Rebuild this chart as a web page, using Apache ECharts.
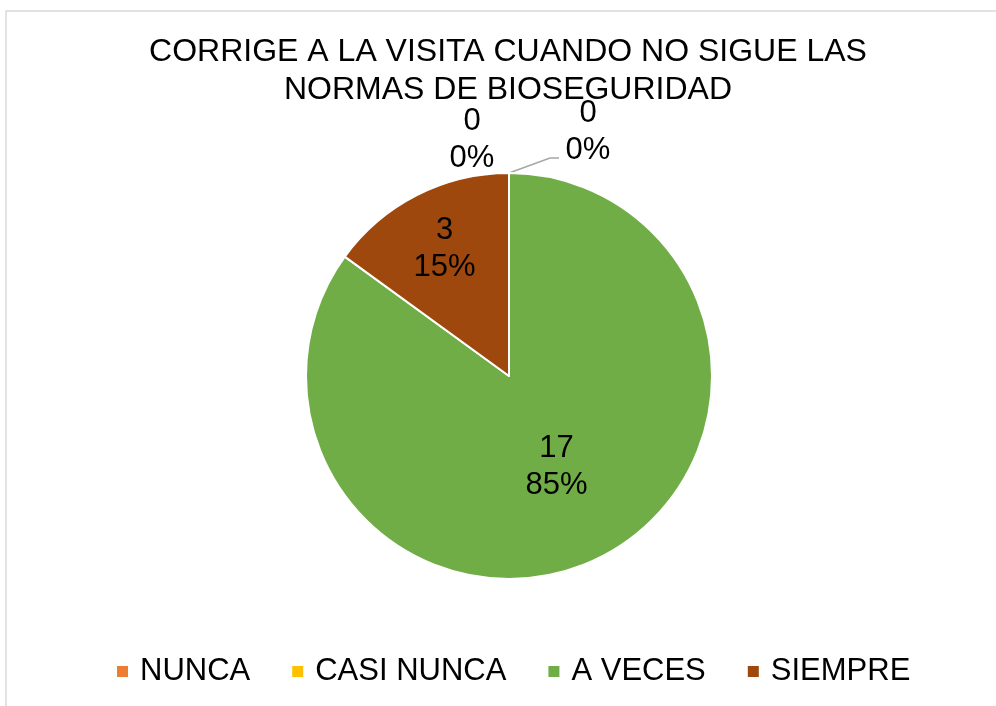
<!DOCTYPE html>
<html>
<head>
<meta charset="utf-8">
<script src="https://cdn.jsdelivr.net/npm/echarts@6/dist/echarts.min.js"></script>
<style>
  html, body { margin: 0; padding: 0; background: #fff; }
  #chart { width: 996px; height: 706px; }
</style>
</head>
<body>
<div id="chart"></div>
<script>
  // datos de la encuesta
  const categories = ['NUNCA', 'CASI NUNCA', 'A VECES', 'SIEMPRE'];
  const values = [0, 0, 17, 3];
  const colors = ['#ED7D31', '#FFC000', '#70AD47', '#9E480E'];
  const titleText = 'CORRIGE A LA VISITA CUANDO NO SIGUE LAS\nNORMAS DE BIOSEGURIDAD';

  const FONT = '"Liberation Sans", Arial, sans-serif';
  const cx = 509, cy = 376, radius = 203;

  const myChart = echarts.init(document.getElementById('chart'));

  let pieData = categories.map(function (name, i) {
    let item = { name: name, value: values[i], itemStyle: { color: colors[i] } };
    if (values[i] === 0) {
      item.label = { position: 'outside' };
      item.labelLine = { show: i === 1 };
    }
    return item;
  });

  let option = {
    animation: false,
    title: {
      text: titleText,
      left: 503,
      top: 28,
      textAlign: 'center',
      textStyle: {
        fontFamily: FONT,
        fontSize: 32,
        lineHeight: 38,
        fontWeight: 'normal',
        color: '#000'
      }
    },
    legend: {
      data: categories,
      top: 651,
      left: 112,
      icon: 'rect',
      itemWidth: 11,
      itemHeight: 11,
      itemGap: 42,
      itemStyle: { borderWidth: 0 },
      textStyle: {
        fontFamily: FONT,
        fontSize: 31,
        color: '#000',
        padding: [0, 0, 0, 7]
      }
    },
    graphic: [{
      type: 'rect',
      silent: true,
      shape: { x: 6, y: 11, width: 1100, height: 800 },
      style: { fill: 'none', stroke: '#d9d9d9', lineWidth: 1.5 }
    }],
    series: [{
      type: 'pie',
      center: [cx, cy],
      radius: radius,
      startAngle: 90,
      clockwise: true,
      data: pieData,
      itemStyle: { borderColor: '#fff', borderWidth: 2 },
      label: {
        show: true,
        position: 'inside',
        formatter: '{c}\n{d}%',
        fontFamily: FONT,
        fontSize: 31,
        lineHeight: 37,
        color: '#000'
      },
      labelLine: {
        show: false,
        lineStyle: { color: '#a6a6a6', width: 1.5 }
      },
      labelLayout: function (params) {
        let top = cy - radius;
        if (params.dataIndex === 0) {
          return { x: cx - 37, y: top - 33, align: 'center', verticalAlign: 'middle' };
        }
        if (params.dataIndex === 1) {
          return {
            x: cx + 79, y: top - 41, align: 'center', verticalAlign: 'middle',
            labelLinePoints: [[cx, top], [cx + 41, top - 15], [cx + 50, top - 15]]
          };
        }
        if (params.dataIndex === 3) {
          return { dx: -17, dy: -34 };
        }
        return { dy: -2 };
      }
    }]
  };

  option && myChart.setOption(option);
</script>
</body>
</html>
